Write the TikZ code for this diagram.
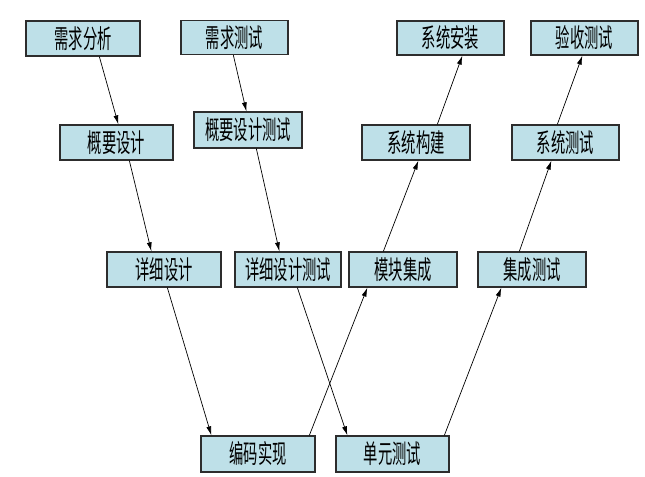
\documentclass[tikz,border=0pt]{standalone}
\usepackage{fontspec}
\newfontfamily\cjk[FakeStretch=0.55]{Noto Sans CJK SC}
\usetikzlibrary{arrows.meta}
\definecolor{boxfill}{RGB}{190,224,232}
\definecolor{boxline}{RGB}{45,45,45}
\tikzset{
  stage/.style={draw=boxline, line width=1.3bp, fill=boxfill, inner sep=0pt,
    minimum height=35bp, font=\cjk\fontsize{26bp}{26bp}\selectfont},
  flow/.style={draw=black, line width=0.7bp, -{Latex[length=9bp,width=5bp]}}
}
\begin{document}
\begin{tikzpicture}[x=1bp,y=-1bp]
\useasboundingbox (0,0) rectangle (645,477);
\node[stage, minimum width=114bp] (xqfx) at (83,38.5) {需求分析};
\node[stage, minimum width=107bp, minimum height=34bp] (xqcs) at (234.5,37.5) {需求测试};
\node[stage, minimum width=113bp] (gysj) at (116.5,142.5) {概要设计};
\node[stage, minimum width=108bp, minimum height=36bp] (gycs) at (248,130) {概要设计测试};
\node[stage, minimum width=114bp] (xxsj) at (164,269.5) {详细设计};
\node[stage, minimum width=106bp] (xxcs) at (288,269.5) {详细设计测试};
\node[stage, minimum width=108bp] (mkjc) at (403,269.5) {模块集成};
\node[stage, minimum width=108bp] (jccs) at (532,269.5) {集成测试};
\node[stage, minimum width=114bp, minimum height=36bp] (bmsx) at (258,454) {编码实现};
\node[stage, minimum width=113bp, minimum height=36bp] (dycs) at (392.5,454) {单元测试};
\node[stage, minimum width=108bp] (xtgj) at (416,142.5) {系统构建};
\node[stage, minimum width=107bp] (xtcs) at (565.5,142.5) {系统测试};
\node[stage, minimum width=107bp, minimum height=34bp] (xtaz) at (450.5,38) {系统安装};
\node[stage, minimum width=107bp, minimum height=34bp] (yscs) at (584.5,38) {验收测试};

\draw[flow] ([xshift=74bp]xqfx.south west) -- ([xshift=59bp]gysj.north west);
\draw[flow] ([xshift=53bp]xqcs.south west) -- ([xshift=53bp]gycs.north west);
\draw[flow] ([xshift=70bp]gysj.south west) -- ([xshift=45bp]xxsj.north west);
\draw[flow] ([xshift=63bp]gycs.south west) -- ([xshift=45bp]xxcs.north west);
\draw[flow] ([xshift=61bp]xxsj.south west) -- ([xshift=11bp]bmsx.north west);
\draw[flow] ([xshift=63bp]xxcs.south west) -- ([xshift=12bp]dycs.north west);
\draw[flow] ([xshift=109bp]bmsx.north west) -- ([xshift=19bp]mkjc.south west);
\draw[flow] ([xshift=109bp]dycs.north west) -- ([xshift=24bp]jccs.south west);
\draw[flow] ([xshift=35bp]mkjc.north west) -- ([xshift=57bp]xtgj.south west);
\draw[flow] ([xshift=42bp]jccs.north west) -- ([xshift=40bp]xtcs.south west);
\draw[flow] ([xshift=76bp]xtgj.north west) -- ([xshift=66bp]xtaz.south west);
\draw[flow] ([xshift=46bp]xtcs.north west) -- ([xshift=52bp]yscs.south west);
\end{tikzpicture}
\end{document}
